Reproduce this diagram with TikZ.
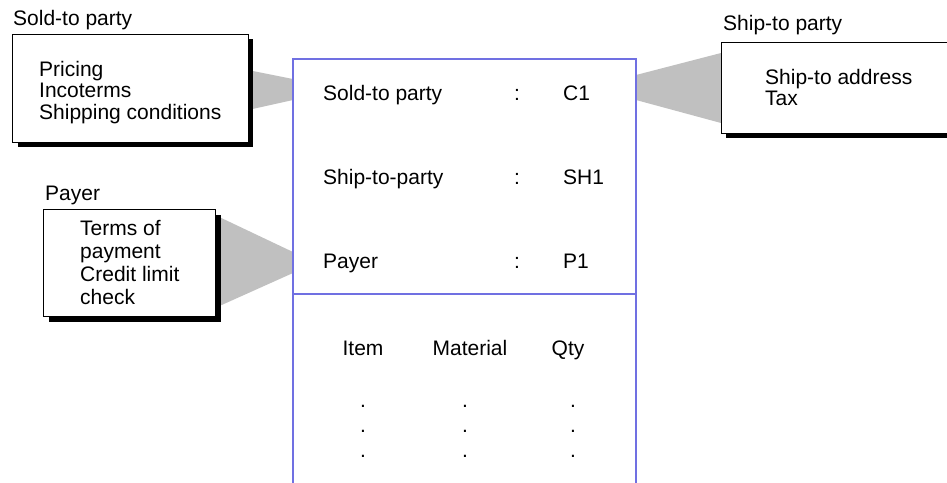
\documentclass[tikz,border=0pt]{standalone}
\usepackage{fontspec}
\setmainfont{Liberation Sans}
\definecolor{docblue}{RGB}{112,112,226}
\definecolor{conngray}{RGB}{192,192,192}
\begin{document}
\begin{tikzpicture}[x=1pt,y=-1pt,
  font=\fontsize{21}{22}\selectfont,
  txt/.style={anchor=base west, inner sep=0pt},
  ctxt/.style={anchor=base, inner sep=0pt},
  shadowfill/.style={fill=black},
  boxframe/.style={draw=black, line width=1pt, fill=white},
  docline/.style={draw=docblue, line width=1.3pt},
  conn/.style={fill=conngray}]
\useasboundingbox (0,0) rectangle (947,482);
\clip (0,0) rectangle (947,482);

% connectors (gray wedges)
\fill[conn] (248,70) -- (293,79) -- (293,100) -- (248,110) -- cycle;
\fill[conn] (215,215) -- (293,252) -- (293,273) -- (215,308) -- cycle;
\fill[conn] (636,75) -- (721,53) -- (721,123) -- (636,100) -- cycle;

% sold-to party box
\fill[shadowfill] (17.7,39) rectangle (253,147);
\draw[boxframe] (12.7,34) rectangle (248,142);
\node[txt] (soldlbl) at (13,25) {Sold-to party};
\node[txt] (s1) at (39,76) {Pricing};
\node[txt] (s2) at (39,97.5) {Incoterms};
\node[txt] (s3) at (39,119) {Shipping conditions};

% payer box
\fill[shadowfill] (48.5,214.5) rectangle (220.5,321.5);
\draw[boxframe] (43,209) rectangle (215,316);
\node[txt] (paylbl) at (45,200) {Payer};
\node[txt] (p1) at (80,235) {Terms of};
\node[txt] (p2) at (80,258) {payment};
\node[txt] (p3) at (80,281) {Credit limit};
\node[txt] (p4) at (80,304) {check};

% ship-to party box
\fill[shadowfill] (726,47) rectangle (970,138);
\draw[boxframe] (721,42) rectangle (965,133);
\node[txt] (shiplbl) at (723,30) {Ship-to party};
\node[txt] (t1) at (765,84) {Ship-to address};
\node[txt] (t2) at (765,105) {Tax};

% sales document
\draw[docline] (293,490) -- (293,59) -- (636,59) -- (636,490);
\draw[docline] (293,294) -- (636,294);

\node[txt] (h1) at (323,100) {Sold-to party};
\node[ctxt] (c1) at (517,100) {:};
\node[txt] (v1) at (563,100) {C1};
\node[txt] (h2) at (323,184) {Ship-to-party};
\node[ctxt] (c2) at (517,184) {:};
\node[txt] (v2) at (563,184) {SH1};
\node[txt] (h3) at (323,268) {Payer};
\node[ctxt] (c3) at (517,268) {:};
\node[txt] (v3) at (563,268) {P1};

\node[ctxt] (item) at (363,355) {Item};
\node[ctxt] (mat) at (470,355) {Material};
\node[ctxt] (qty) at (568,355) {Qty};

\foreach \yy/\k in {407/a,432/b,457/c}{
  \node[ctxt] (d1\k) at (363,\yy) {.};
  \node[ctxt] (d2\k) at (465,\yy) {.};
  \node[ctxt] (d3\k) at (573,\yy) {.};
}
\end{tikzpicture}
\end{document}
